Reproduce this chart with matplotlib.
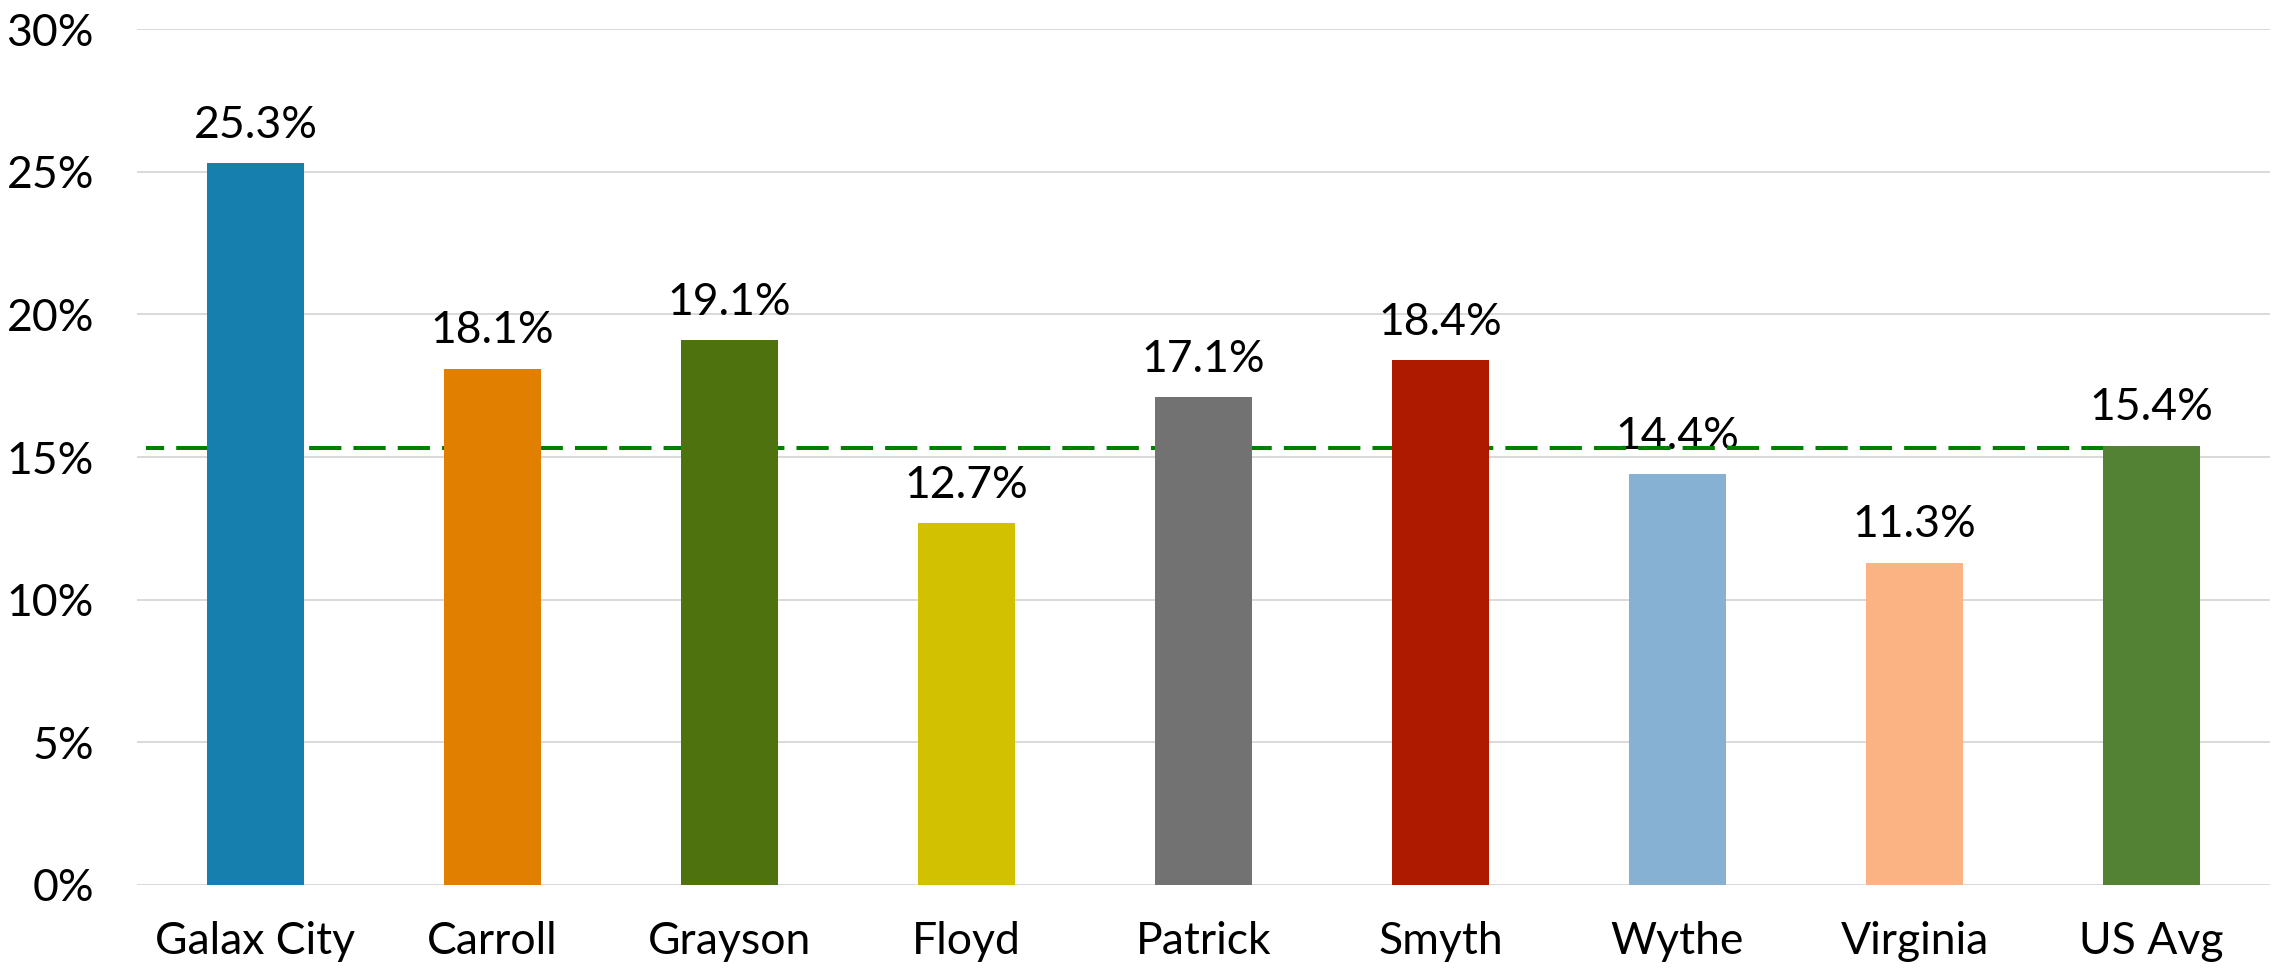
import numpy as np
import matplotlib
matplotlib.use("Agg")
import matplotlib.pyplot as plt
from matplotlib.ticker import FuncFormatter

# ------------------------------------------------------------
# Data
# ------------------------------------------------------------
categories = ["Galax City", "Carroll", "Grayson", "Floyd", "Patrick",
              "Smyth", "Wythe", "Virginia", "US Avg"]
values = [25.3, 18.1, 19.1, 12.7, 17.1, 18.4, 14.4, 11.3, 15.4]
bar_colors = ["#167FAE", "#E07F00", "#4E730E", "#D1C100", "#727272",
              "#AD1A00", "#86B1D2", "#FBB383", "#548235"]
reference_value = 15.3
y_ticks = [0, 5, 10, 15, 20, 25, 30]

plt.rcParams["font.family"] = ["Lato", "DejaVu Sans"]

fig = plt.figure(figsize=(22.75, 9.74), dpi=100)
ax = fig.add_axes([0.0602, 0.0914, 0.9376, 0.8788])

x = np.arange(len(categories))

# dashed reference line, drawn behind the bars
ax.hlines(reference_value, -0.46, len(categories) - 1, colors="#008000",
          linewidth=2.9, linestyles=(3.5, (8, 3)), zorder=2)

bars = ax.bar(x, values, width=0.41, color=bar_colors, zorder=3)

for xi, v in zip(x, values):
    ax.text(xi, v + 0.6, f"{v:.1f}%", ha="center", va="bottom",
            fontsize=32, color="black", zorder=1)

ax.set_xlim(-0.5, len(categories) - 0.5)
ax.set_ylim(0, 30)
ax.set_yticks(y_ticks)
ax.yaxis.set_major_formatter(FuncFormatter(lambda v, _: f"{v:.0f}%"))
ax.set_xticks(x)
ax.set_xticklabels(categories)

ax.grid(axis="y", color="#D9D9D9", linewidth=1.4, zorder=0)
ax.set_axisbelow(True)
for s in ax.spines.values():
    s.set_visible(False)
ax.tick_params(axis="both", length=0, labelsize=32, colors="black")
ax.tick_params(axis="x", pad=26)
ax.tick_params(axis="y", pad=31)

fig.savefig("out.png", dpi=100)
